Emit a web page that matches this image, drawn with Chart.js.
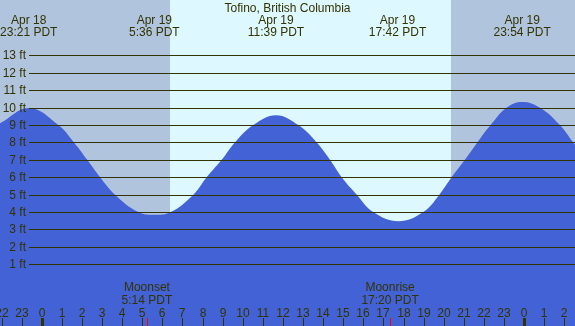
<!DOCTYPE html>
<html>
<head>
<meta charset="utf-8">
<script src="https://cdn.jsdelivr.net/npm/chart.js@4/dist/chart.umd.min.js"></script>
<style>
  body { margin: 0; background: #fff; }
  #tide-chart { display: block; }
</style>
</head>
<body>
<canvas id="tide-chart" width="575" height="326"></canvas>
<script>
// tide curve, hours from Apr 19 00:00 PDT and height in feet
const tideHours = [-2.08, -0.62, 0.82, 1.6, 2.26, 2.9, 3.64, 4.8, 5.6, 6.42, 7.54, 8.2, 8.95, 9.61, 10.52, 11.65,
  12.76, 13.68, 14.34, 14.92, 15.67, 16.49, 17.75, 18.98, 19.78, 20.39, 21.05, 21.67, 22.33, 23.12, 23.9,
  24.79, 25.78, 26.44, 26.6];
const tideFeet = [9.1, 9.98, 9, 8, 7, 6, 5, 4, 3.84, 4, 5, 6, 7, 8, 9, 9.57,
  9, 8, 7, 6, 5, 4, 3.47, 4, 5, 6, 7, 8, 9, 10, 10.33,
  10, 9, 8, 7.8];

// high / low tide labels at the top
const extremeHours = [-0.65, 5.6, 11.65, 17.7, 23.9];
const extremeDates = ["Apr 18", "Apr 19", "Apr 19", "Apr 19", "Apr 19"];
const extremeTimes = ["23:21 PDT", "5:36 PDT", "11:39 PDT", "17:42 PDT", "23:54 PDT"];

// moon events at the bottom
const moonHours = [5.23, 17.33];
const moonNames = ["Moonset", "Moonrise"];
const moonTimes = ["5:14 PDT", "17:20 PDT"];

// daylight
const sunriseHour = 6.38;
const sunsetHour = 20.36;

// axis ticks
const feetTicks = [1, 2, 3, 4, 5, 6, 7, 8, 9, 10, 11, 12, 13];
const hourTicks = [-2, -1, 0, 1, 2, 3, 4, 5, 6, 7, 8, 9, 10, 11, 12, 13, 14, 15, 16, 17, 18, 19, 20, 21, 22, 23, 24, 25, 26];
const hourLabels = ["22", "23", "0", "1", "2", "3", "4", "5", "6", "7", "8", "9", "10", "11", "12", "13", "14", "15",
  "16", "17", "18", "19", "20", "21", "22", "23", "0", "1", "2"];

const title = "Tofino, British Columbia";

const textColor = "#333300";
const font = "12px 'Liberation Sans', Arial, sans-serif";

// background: night / day shading
const backgroundPlugin = {
  id: "background",
  beforeDatasetsDraw(chart) {
    const ctx = chart.ctx;
    const area = chart.chartArea;
    const x = chart.scales.x;
    const xRise = x.getPixelForValue(sunriseHour);
    const xSet = x.getPixelForValue(sunsetHour);
    ctx.save();
    ctx.fillStyle = "#b0c4de";
    ctx.fillRect(area.left, area.top, area.right - area.left, area.bottom - area.top);
    ctx.fillStyle = "#ddf8ff";
    ctx.fillRect(xRise, area.top, xSet - xRise, area.bottom - area.top);
    ctx.restore();
  },
};

// grid lines, labels and ticks on top of the water
const overlayPlugin = {
  id: "overlay",
  afterDatasetsDraw(chart) {
    const ctx = chart.ctx;
    const area = chart.chartArea;
    const x = chart.scales.x;
    const y = chart.scales.y;
    ctx.save();
    ctx.font = font;
    ctx.fillStyle = textColor;
    ctx.strokeStyle = textColor;
    ctx.lineWidth = 1;

    // feet grid lines
    ctx.textAlign = "right";
    ctx.textBaseline = "middle";
    feetTicks.forEach((ft) => {
      const py = Math.round(y.getPixelForValue(ft)) + 0.5;
      ctx.beginPath();
      ctx.moveTo(29, py);
      ctx.lineTo(area.right, py);
      ctx.stroke();
      ctx.fillText(ft + " ft", 26, py);
    });

    // title and tide times
    ctx.textAlign = "center";
    ctx.textBaseline = "alphabetic";
    ctx.fillText(title, (area.left + area.right) / 2, 12);
    extremeHours.forEach((h, i) => {
      const px = x.getPixelForValue(h);
      ctx.fillText(extremeDates[i], px, 24);
      ctx.fillText(extremeTimes[i], px, 36);
    });

    // hour ticks
    hourTicks.forEach((h, i) => {
      const px = Math.round(x.getPixelForValue(h));
      const midnight = hourLabels[i] === "0";
      ctx.fillText(hourLabels[i], px, 317);
      ctx.fillRect(midnight ? px - 1 : px, 318, midnight ? 3 : 1, area.bottom - 318);
    });

    // moon events
    moonHours.forEach((h, i) => {
      const px = x.getPixelForValue(h);
      ctx.fillStyle = textColor;
      ctx.fillText(moonNames[i], px, 291);
      ctx.fillText(moonTimes[i], px, 304);
      ctx.fillStyle = "#ff0000";
      ctx.fillRect(Math.round(px), 318, 1, area.bottom - 318);
    });
    ctx.restore();
  },
};

new Chart(document.querySelector("#tide-chart").getContext("2d"), {
  type: "line",
  data: {
    datasets: [
      {
        data: tideHours.map((h, i) => ({ x: h, y: tideFeet[i] })),
        fill: "start",
        backgroundColor: "#4262d6",
        borderWidth: 0,
        pointRadius: 0,
        tension: 0.4,
      },
    ],
  },
  options: {
    responsive: false,
    devicePixelRatio: 1,
    animation: false,
    layout: { padding: 0 },
    plugins: {
      legend: { display: false },
      tooltip: { enabled: false },
    },
    scales: {
      x: { type: "linear", min: -2.08, max: 26.53, display: false },
      y: { type: "linear", min: -2.55, max: 16.19, display: false },
    },
  },
  plugins: [backgroundPlugin, overlayPlugin],
});
</script>
</body>
</html>
